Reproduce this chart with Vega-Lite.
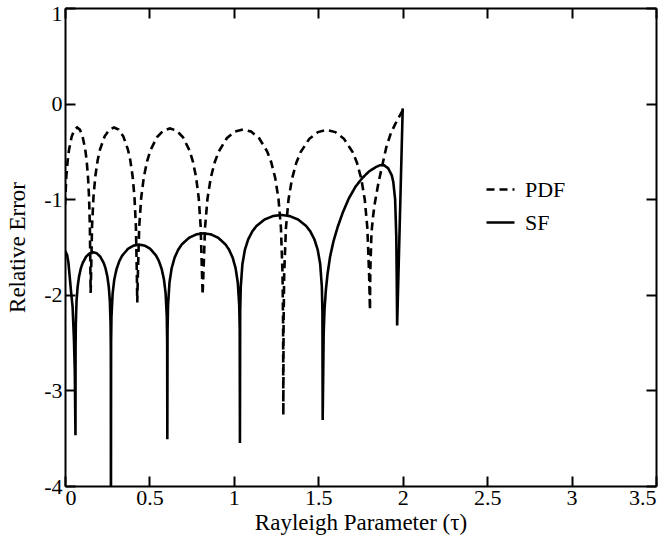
{
  "$schema": "https://vega.github.io/schema/vega-lite/v6.json",
  "width": 591,
  "height": 478,
  "autosize": {"type": "none"},
  "padding": {"left": 65, "top": 8, "right": 15, "bottom": 57},
  "background": "white",
  "config": {
    "view": {"stroke": null},
    "font": "Liberation Serif",
    "axis": {
      "grid": false,
      "domainColor": "black",
      "domainWidth": 2,
      "tickColor": "black",
      "tickWidth": 2,
      "tickSize": -10,
      "labelColor": "black",
      "labelFont": "Liberation Serif",
      "labelFontSize": 22,
      "titleFont": "Liberation Serif",
      "titleFontSize": 23,
      "titleFontWeight": "normal",
      "titleColor": "black"
    }
  },
  "data": {
    "values": [
      {"s": "PDF", "x": 0, "y": -1.06},
      {"s": "PDF", "x": 0.008, "y": -0.76},
      {"s": "PDF", "x": 0.016, "y": -0.593},
      {"s": "PDF", "x": 0.024, "y": -0.481},
      {"s": "PDF", "x": 0.04, "y": -0.342},
      {"s": "PDF", "x": 0.056, "y": -0.272},
      {"s": "PDF", "x": 0.072, "y": -0.25},
      {"s": "PDF", "x": 0.088, "y": -0.272},
      {"s": "PDF", "x": 0.104, "y": -0.342},
      {"s": "PDF", "x": 0.12, "y": -0.481},
      {"s": "PDF", "x": 0.128, "y": -0.593},
      {"s": "PDF", "x": 0.136, "y": -0.76},
      {"s": "PDF", "x": 0.1424, "y": -0.977},
      {"s": "PDF", "x": 0.1472, "y": -1.276},
      {"s": "PDF", "x": 0.1504, "y": -1.753},
      {"s": "PDF", "x": 0.152, "y": -1.98},
      {"s": "PDF", "x": 0.1548, "y": -1.753},
      {"s": "PDF", "x": 0.1603, "y": -1.276},
      {"s": "PDF", "x": 0.1686, "y": -0.977},
      {"s": "PDF", "x": 0.1796, "y": -0.76},
      {"s": "PDF", "x": 0.1934, "y": -0.593},
      {"s": "PDF", "x": 0.2072, "y": -0.481},
      {"s": "PDF", "x": 0.2348, "y": -0.342},
      {"s": "PDF", "x": 0.2624, "y": -0.272},
      {"s": "PDF", "x": 0.29, "y": -0.25},
      {"s": "PDF", "x": 0.3176, "y": -0.272},
      {"s": "PDF", "x": 0.3452, "y": -0.342},
      {"s": "PDF", "x": 0.3728, "y": -0.481},
      {"s": "PDF", "x": 0.3866, "y": -0.593},
      {"s": "PDF", "x": 0.4004, "y": -0.76},
      {"s": "PDF", "x": 0.4114, "y": -0.977},
      {"s": "PDF", "x": 0.4197, "y": -1.276},
      {"s": "PDF", "x": 0.4252, "y": -1.753},
      {"s": "PDF", "x": 0.428, "y": -2.08},
      {"s": "PDF", "x": 0.4319, "y": -1.763},
      {"s": "PDF", "x": 0.4396, "y": -1.286},
      {"s": "PDF", "x": 0.4512, "y": -0.987},
      {"s": "PDF", "x": 0.4667, "y": -0.77},
      {"s": "PDF", "x": 0.4861, "y": -0.603},
      {"s": "PDF", "x": 0.5054, "y": -0.491},
      {"s": "PDF", "x": 0.5441, "y": -0.352},
      {"s": "PDF", "x": 0.5828, "y": -0.282},
      {"s": "PDF", "x": 0.6215, "y": -0.26},
      {"s": "PDF", "x": 0.6602, "y": -0.282},
      {"s": "PDF", "x": 0.6989, "y": -0.352},
      {"s": "PDF", "x": 0.7376, "y": -0.491},
      {"s": "PDF", "x": 0.757, "y": -0.603},
      {"s": "PDF", "x": 0.7763, "y": -0.77},
      {"s": "PDF", "x": 0.7918, "y": -0.987},
      {"s": "PDF", "x": 0.8034, "y": -1.286},
      {"s": "PDF", "x": 0.8111, "y": -1.763},
      {"s": "PDF", "x": 0.815, "y": -2.0},
      {"s": "PDF", "x": 0.8198, "y": -1.773},
      {"s": "PDF", "x": 0.8293, "y": -1.296},
      {"s": "PDF", "x": 0.8437, "y": -0.997},
      {"s": "PDF", "x": 0.8628, "y": -0.78},
      {"s": "PDF", "x": 0.8867, "y": -0.613},
      {"s": "PDF", "x": 0.9106, "y": -0.501},
      {"s": "PDF", "x": 0.9584, "y": -0.362},
      {"s": "PDF", "x": 1.0062, "y": -0.292},
      {"s": "PDF", "x": 1.054, "y": -0.27},
      {"s": "PDF", "x": 1.1018, "y": -0.292},
      {"s": "PDF", "x": 1.1496, "y": -0.362},
      {"s": "PDF", "x": 1.1974, "y": -0.501},
      {"s": "PDF", "x": 1.2213, "y": -0.613},
      {"s": "PDF", "x": 1.2452, "y": -0.78},
      {"s": "PDF", "x": 1.2643, "y": -0.997},
      {"s": "PDF", "x": 1.2787, "y": -1.296},
      {"s": "PDF", "x": 1.2882, "y": -1.773},
      {"s": "PDF", "x": 1.2916, "y": -2.296},
      {"s": "PDF", "x": 1.293, "y": -3.26},
      {"s": "PDF", "x": 1.2945, "y": -2.302},
      {"s": "PDF", "x": 1.2981, "y": -1.779},
      {"s": "PDF", "x": 1.3084, "y": -1.302},
      {"s": "PDF", "x": 1.3238, "y": -1.003},
      {"s": "PDF", "x": 1.3443, "y": -0.786},
      {"s": "PDF", "x": 1.37, "y": -0.619},
      {"s": "PDF", "x": 1.3956, "y": -0.507},
      {"s": "PDF", "x": 1.4469, "y": -0.368},
      {"s": "PDF", "x": 1.4982, "y": -0.298},
      {"s": "PDF", "x": 1.5495, "y": -0.276},
      {"s": "PDF", "x": 1.6008, "y": -0.298},
      {"s": "PDF", "x": 1.6521, "y": -0.368},
      {"s": "PDF", "x": 1.7034, "y": -0.507},
      {"s": "PDF", "x": 1.7291, "y": -0.619},
      {"s": "PDF", "x": 1.7547, "y": -0.786},
      {"s": "PDF", "x": 1.7752, "y": -1.003},
      {"s": "PDF", "x": 1.7906, "y": -1.302},
      {"s": "PDF", "x": 1.8009, "y": -1.779},
      {"s": "PDF", "x": 1.806, "y": -2.16},
      {"s": "PDF", "x": 1.808, "y": -1.75},
      {"s": "PDF", "x": 1.815, "y": -1.35},
      {"s": "PDF", "x": 1.825, "y": -1.17},
      {"s": "PDF", "x": 1.835, "y": -1.04},
      {"s": "PDF", "x": 1.855, "y": -0.84},
      {"s": "PDF", "x": 1.875, "y": -0.677},
      {"s": "PDF", "x": 1.905, "y": -0.44},
      {"s": "PDF", "x": 1.93, "y": -0.31},
      {"s": "PDF", "x": 1.954, "y": -0.22},
      {"s": "PDF", "x": 1.975, "y": -0.15},
      {"s": "PDF", "x": 2.0, "y": -0.07},
      {"s": "SF", "x": 0, "y": -1.57},
      {"s": "SF", "x": 0.005, "y": -1.555},
      {"s": "SF", "x": 0.012, "y": -1.58},
      {"s": "SF", "x": 0.02, "y": -1.66},
      {"s": "SF", "x": 0.026, "y": -1.775},
      {"s": "SF", "x": 0.035, "y": -1.95},
      {"s": "SF", "x": 0.045, "y": -2.125},
      {"s": "SF", "x": 0.053, "y": -2.47},
      {"s": "SF", "x": 0.058, "y": -2.8},
      {"s": "SF", "x": 0.062, "y": -3.47},
      {"s": "SF", "x": 0.0626, "y": -2.568},
      {"s": "SF", "x": 0.0641, "y": -2.306},
      {"s": "SF", "x": 0.0683, "y": -2.068},
      {"s": "SF", "x": 0.0746, "y": -1.919},
      {"s": "SF", "x": 0.083, "y": -1.81},
      {"s": "SF", "x": 0.0935, "y": -1.726},
      {"s": "SF", "x": 0.104, "y": -1.67},
      {"s": "SF", "x": 0.125, "y": -1.601},
      {"s": "SF", "x": 0.146, "y": -1.566},
      {"s": "SF", "x": 0.167, "y": -1.555},
      {"s": "SF", "x": 0.188, "y": -1.566},
      {"s": "SF", "x": 0.209, "y": -1.601},
      {"s": "SF", "x": 0.23, "y": -1.67},
      {"s": "SF", "x": 0.2405, "y": -1.726},
      {"s": "SF", "x": 0.251, "y": -1.81},
      {"s": "SF", "x": 0.2594, "y": -1.919},
      {"s": "SF", "x": 0.2657, "y": -2.068},
      {"s": "SF", "x": 0.2699, "y": -2.306},
      {"s": "SF", "x": 0.2714, "y": -2.568},
      {"s": "SF", "x": 0.272, "y": -4.6},
      {"s": "SF", "x": 0.273, "y": -2.488},
      {"s": "SF", "x": 0.2753, "y": -2.226},
      {"s": "SF", "x": 0.282, "y": -1.988},
      {"s": "SF", "x": 0.292, "y": -1.839},
      {"s": "SF", "x": 0.3054, "y": -1.73},
      {"s": "SF", "x": 0.3221, "y": -1.646},
      {"s": "SF", "x": 0.3388, "y": -1.59},
      {"s": "SF", "x": 0.3722, "y": -1.521},
      {"s": "SF", "x": 0.4056, "y": -1.486},
      {"s": "SF", "x": 0.439, "y": -1.475},
      {"s": "SF", "x": 0.4724, "y": -1.486},
      {"s": "SF", "x": 0.5058, "y": -1.521},
      {"s": "SF", "x": 0.5392, "y": -1.59},
      {"s": "SF", "x": 0.5559, "y": -1.646},
      {"s": "SF", "x": 0.5726, "y": -1.73},
      {"s": "SF", "x": 0.586, "y": -1.839},
      {"s": "SF", "x": 0.596, "y": -1.988},
      {"s": "SF", "x": 0.6027, "y": -2.226},
      {"s": "SF", "x": 0.605, "y": -2.488},
      {"s": "SF", "x": 0.606, "y": -3.51},
      {"s": "SF", "x": 0.6073, "y": -2.37},
      {"s": "SF", "x": 0.6103, "y": -2.108},
      {"s": "SF", "x": 0.6189, "y": -1.87},
      {"s": "SF", "x": 0.6318, "y": -1.721},
      {"s": "SF", "x": 0.649, "y": -1.612},
      {"s": "SF", "x": 0.6705, "y": -1.528},
      {"s": "SF", "x": 0.692, "y": -1.472},
      {"s": "SF", "x": 0.735, "y": -1.403},
      {"s": "SF", "x": 0.778, "y": -1.368},
      {"s": "SF", "x": 0.821, "y": -1.357},
      {"s": "SF", "x": 0.864, "y": -1.368},
      {"s": "SF", "x": 0.907, "y": -1.403},
      {"s": "SF", "x": 0.95, "y": -1.472},
      {"s": "SF", "x": 0.9715, "y": -1.528},
      {"s": "SF", "x": 0.993, "y": -1.612},
      {"s": "SF", "x": 1.0102, "y": -1.721},
      {"s": "SF", "x": 1.0231, "y": -1.87},
      {"s": "SF", "x": 1.0317, "y": -2.108},
      {"s": "SF", "x": 1.0347, "y": -2.37},
      {"s": "SF", "x": 1.036, "y": -3.55},
      {"s": "SF", "x": 1.0375, "y": -2.178},
      {"s": "SF", "x": 1.0409, "y": -1.916},
      {"s": "SF", "x": 1.0507, "y": -1.678},
      {"s": "SF", "x": 1.0654, "y": -1.529},
      {"s": "SF", "x": 1.085, "y": -1.42},
      {"s": "SF", "x": 1.1095, "y": -1.336},
      {"s": "SF", "x": 1.134, "y": -1.28},
      {"s": "SF", "x": 1.183, "y": -1.211},
      {"s": "SF", "x": 1.232, "y": -1.176},
      {"s": "SF", "x": 1.281, "y": -1.165},
      {"s": "SF", "x": 1.33, "y": -1.176},
      {"s": "SF", "x": 1.379, "y": -1.211},
      {"s": "SF", "x": 1.428, "y": -1.28},
      {"s": "SF", "x": 1.4525, "y": -1.336},
      {"s": "SF", "x": 1.477, "y": -1.42},
      {"s": "SF", "x": 1.4966, "y": -1.529},
      {"s": "SF", "x": 1.5113, "y": -1.678},
      {"s": "SF", "x": 1.5211, "y": -1.916},
      {"s": "SF", "x": 1.5245, "y": -2.178},
      {"s": "SF", "x": 1.526, "y": -3.31},
      {"s": "SF", "x": 1.532, "y": -2.4},
      {"s": "SF", "x": 1.537, "y": -2.15},
      {"s": "SF", "x": 1.545, "y": -1.95},
      {"s": "SF", "x": 1.555, "y": -1.78},
      {"s": "SF", "x": 1.57, "y": -1.6},
      {"s": "SF", "x": 1.59, "y": -1.44},
      {"s": "SF", "x": 1.615, "y": -1.29},
      {"s": "SF", "x": 1.645, "y": -1.14},
      {"s": "SF", "x": 1.68, "y": -0.995},
      {"s": "SF", "x": 1.72, "y": -0.87},
      {"s": "SF", "x": 1.76, "y": -0.78},
      {"s": "SF", "x": 1.8, "y": -0.71},
      {"s": "SF", "x": 1.84, "y": -0.665},
      {"s": "SF", "x": 1.865, "y": -0.645},
      {"s": "SF", "x": 1.89, "y": -0.645},
      {"s": "SF", "x": 1.914, "y": -0.677},
      {"s": "SF", "x": 1.935, "y": -0.75},
      {"s": "SF", "x": 1.944, "y": -0.817},
      {"s": "SF", "x": 1.955, "y": -1.0},
      {"s": "SF", "x": 1.962, "y": -1.4},
      {"s": "SF", "x": 1.965, "y": -1.9},
      {"s": "SF", "x": 1.967, "y": -2.32},
      {"s": "SF", "x": 2.0, "y": -0.05}
    ]
  },
  "layer": [
    {
      "transform": [{"filter": "datum.s == 'PDF'"}],
      "mark": {"type": "line", "color": "black", "strokeWidth": 2.6, "clip": true},
      "encoding": {
        "x": {
          "field": "x", "type": "quantitative",
          "scale": {"domain": [0, 3.5], "nice": false, "zero": false},
          "axis": {
            "orient": "bottom",
            "values": [0, 0.5, 1, 1.5, 2, 2.5, 3, 3.5],
            "labelExpr": "'' + datum.value",
            "title": "Rayleigh Parameter (τ)",
            "titlePadding": 3,
            "labelPadding": 11
          }
        },
        "y": {
          "field": "y", "type": "quantitative",
          "scale": {"domain": [-4, 1], "nice": false, "zero": false},
          "axis": {
            "orient": "left",
            "values": [-4, -3, -2, -1, 0, 1],
            "labelExpr": "'' + datum.value",
            "labelOffset": {"condition": {"test": "datum.value == 1", "value": 5}, "value": 0},
            "title": "Relative Error",
            "titlePadding": 14,
            "labelPadding": 13
          }
        },
        "strokeDash": {
          "field": "s", "type": "nominal",
          "scale": {"domain": ["PDF", "SF"], "range": [[8, 5], [1, 0]]},
          "legend": {
            "title": null,
            "orient": "none",
            "legendX": 420,
            "legendY": 166,
            "padding": 0,
            "symbolType": "stroke",
            "symbolStrokeColor": "black",
            "symbolStrokeWidth": 2.6,
            "symbolSize": 784,
            "labelFont": "Liberation Serif",
            "labelFontSize": 22,
            "labelColor": "black",
            "labelOffset": 9,
            "rowPadding": 6
          }
        }
      }
    },
    {
      "transform": [{"filter": "datum.s == 'SF'"}],
      "mark": {"type": "line", "color": "black", "strokeWidth": 2.6, "clip": true},
      "encoding": {
        "x": {
          "field": "x", "type": "quantitative",
          "axis": {
            "orient": "top",
            "values": [0, 0.5, 1, 1.5, 2, 2.5, 3, 3.5],
            "labels": false,
            "title": null
          }
        },
        "y": {
          "field": "y", "type": "quantitative",
          "axis": {
            "orient": "right",
            "values": [-4, -3, -2, -1, 0, 1],
            "labels": false,
            "title": null
          }
        },
        "strokeDash": {"field": "s", "type": "nominal"}
      }
    }
  ],
  "resolve": {"axis": {"x": "independent", "y": "independent"}}
}
